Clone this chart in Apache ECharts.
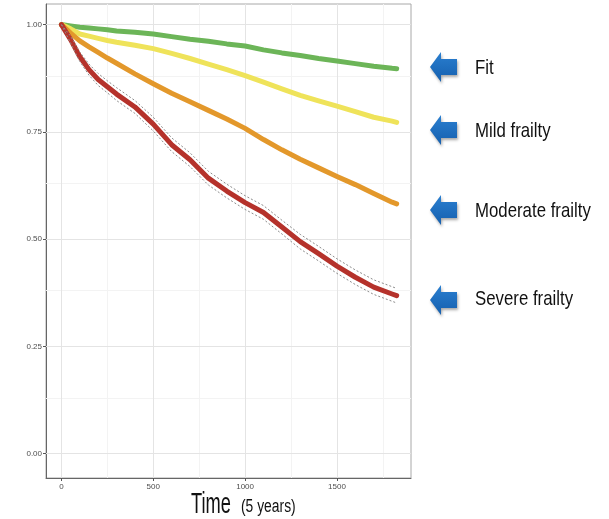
<!DOCTYPE html>
<html>
<head>
<meta charset="utf-8">
<script src="https://cdn.jsdelivr.net/npm/echarts@6/dist/echarts.min.js"></script>
<style>
html,body{margin:0;padding:0;background:#fff;}
#chart{width:609px;height:519px;}
</style>
</head>
<body>
<div id="chart"></div>
<script>
// ---- data ----
const time = [0, 50, 100, 150, 200, 250, 300, 400, 500, 600, 700, 800, 900, 1000, 1100, 1200, 1300, 1400, 1500, 1600, 1700, 1800, 1825];
const fit = [1.0, 0.997, 0.994, 0.992, 0.99, 0.988, 0.985, 0.982, 0.978, 0.972, 0.966, 0.961, 0.955, 0.95, 0.941, 0.934, 0.928, 0.921, 0.915, 0.909, 0.903, 0.898, 0.897];
const mild = [1.0, 0.99, 0.978, 0.973, 0.968, 0.963, 0.959, 0.952, 0.944, 0.933, 0.921, 0.908, 0.895, 0.881, 0.866, 0.85, 0.835, 0.822, 0.81, 0.797, 0.784, 0.775, 0.772];
const moderate = [1.0, 0.98, 0.962, 0.948, 0.935, 0.922, 0.91, 0.885, 0.862, 0.84, 0.82, 0.80, 0.78, 0.758, 0.732, 0.708, 0.686, 0.666, 0.646, 0.627, 0.606, 0.586, 0.582];
const severe = [1.0, 0.965, 0.925, 0.895, 0.872, 0.855, 0.838, 0.808, 0.768, 0.72, 0.685, 0.642, 0.612, 0.585, 0.562, 0.528, 0.494, 0.466, 0.437, 0.411, 0.388, 0.372, 0.368];
const severeUpper = [1.0, 0.973, 0.936, 0.908, 0.886, 0.869, 0.853, 0.823, 0.784, 0.736, 0.701, 0.658, 0.628, 0.601, 0.578, 0.544, 0.511, 0.483, 0.454, 0.428, 0.405, 0.389, 0.385];
const severeLower = [1.0, 0.957, 0.914, 0.882, 0.858, 0.841, 0.823, 0.793, 0.752, 0.704, 0.669, 0.626, 0.596, 0.569, 0.546, 0.512, 0.477, 0.449, 0.42, 0.394, 0.371, 0.355, 0.351];
const xTicks = [0, 500, 1000, 1500];
const xMinorTicks = [250, 750, 1250, 1750];
const yTicks = [0, 0.25, 0.5, 0.75, 1];
const yMinorTicks = [0.125, 0.375, 0.625, 0.875];
const groupLabels = ['Fit', 'Mild frailty', 'Moderate frailty', 'Severe frailty'];
const xTitle = 'Time';
const xTitleNote = '(5 years)';

const pair = (arr) => time.map((t, i) => [t, arr[i]]);

const chart = echarts.init(document.getElementById('chart'), null, {renderer: 'canvas'});

const gridLines = [];
xMinorTicks.forEach(v => gridLines.push({xAxis: v, lineStyle: {color: '#f3f3f3'}}));
yMinorTicks.forEach(v => gridLines.push({yAxis: v, lineStyle: {color: '#f3f3f3'}}));
xTicks.forEach(v => gridLines.push({xAxis: v, lineStyle: {color: '#e4e4e4'}}));
yTicks.forEach(v => gridLines.push({yAxis: v, lineStyle: {color: '#e4e4e4'}}));

const arrowYs = [67, 130, 210, 300];
const textYs = [68, 131, 211, 299];
const graphics = [];
arrowYs.forEach(cy => {
  graphics.push({
    type: 'polygon',
    shape: {points: [[430, cy], [441, cy - 15], [441, cy - 8], [457, cy - 8], [457, cy + 8], [441, cy + 8], [441, cy + 15]]},
    style: {
      fill: new echarts.graphic.LinearGradient(0, 0, 0, 1, [
        {offset: 0, color: '#2a7fd0'}, {offset: 1, color: '#155fae'}
      ]),
      shadowBlur: 3, shadowColor: 'rgba(0,0,0,0.35)', shadowOffsetX: 1, shadowOffsetY: 2
    }
  });
});
groupLabels.forEach((lab, i) => {
  graphics.push({
    type: 'text', x: 475, y: textYs[i], scaleX: 0.8,
    style: {text: lab, font: '21px "Liberation Sans", Arial, sans-serif', fill: '#111', align: 'left', verticalAlign: 'middle'}
  });
});
graphics.push({
  type: 'text', x: 191, y: 505, scaleX: 0.63,
  style: {text: xTitle, font: '29px "Liberation Sans", Arial, sans-serif', fill: '#111', align: 'left', verticalAlign: 'middle'}
});
graphics.push({
  type: 'text', x: 241, y: 507, scaleX: 0.77,
  style: {text: xTitleNote, font: '18px "Liberation Sans", Arial, sans-serif', fill: '#111', align: 'left', verticalAlign: 'middle'}
});

const lineS = (name, arr, color) => ({
  name, type: 'line', data: pair(arr), showSymbol: false, symbol: 'circle', z: 3,
  lineStyle: {color, width: 5, cap: 'round', join: 'round'}, itemStyle: {color}, animation: false
});
const ciS = (name, arr) => ({
  name, type: 'line', data: pair(arr), showSymbol: false, z: 4,
  lineStyle: {color: '#8c8c8c', width: 1, type: [2, 2]}, animation: false
});

chart.setOption({
  backgroundColor: '#ffffff',
  animation: false,
  grid: {left: 46, right: 198, top: 4, bottom: 41, show: true, borderColor: '#a8a8a8', borderWidth: 1, backgroundColor: '#fff'},
  xAxis: {
    type: 'value', min: -84, max: 1903,
    axisLine: {show: true, onZero: false, lineStyle: {color: '#666', width: 1}},
    axisTick: {show: true, length: 3, lineStyle: {color: '#555'}, customValues: xTicks},
    axisLabel: {customValues: xTicks, color: '#4d4d4d', fontSize: 8, margin: 5, fontFamily: 'Liberation Sans',
      formatter: v => String(Math.round(v))},
    splitLine: {show: false}
  },
  yAxis: {
    type: 'value', min: -0.057, max: 1.048,
    axisLine: {show: true, onZero: false, lineStyle: {color: '#666', width: 1}},
    axisTick: {show: true, length: 3, lineStyle: {color: '#555'}, customValues: yTicks},
    axisLabel: {customValues: yTicks, color: '#4d4d4d', fontSize: 8, margin: 4, fontFamily: 'Liberation Sans',
      formatter: v => Number(v).toFixed(2)},
    splitLine: {show: false}
  },
  graphic: graphics,
  series: [
    {name: 'grid', type: 'line', data: [[0, 1]], showSymbol: false, lineStyle: {opacity: 0}, z: 1, silent: true,
      markLine: {silent: true, z: 1, symbol: 'none', label: {show: false}, animation: false,
        lineStyle: {width: 1, type: 'solid'}, data: gridLines}},
    lineS('Fit', fit, '#6cb558'),
    lineS('Mild frailty', mild, '#efe35a'),
    lineS('Moderate frailty', moderate, '#e3982b'),
    lineS('Severe frailty', severe, '#b5322b'),
    ciS('Severe upper', severeUpper),
    ciS('Severe lower', severeLower)
  ]
});
</script>
</body>
</html>
